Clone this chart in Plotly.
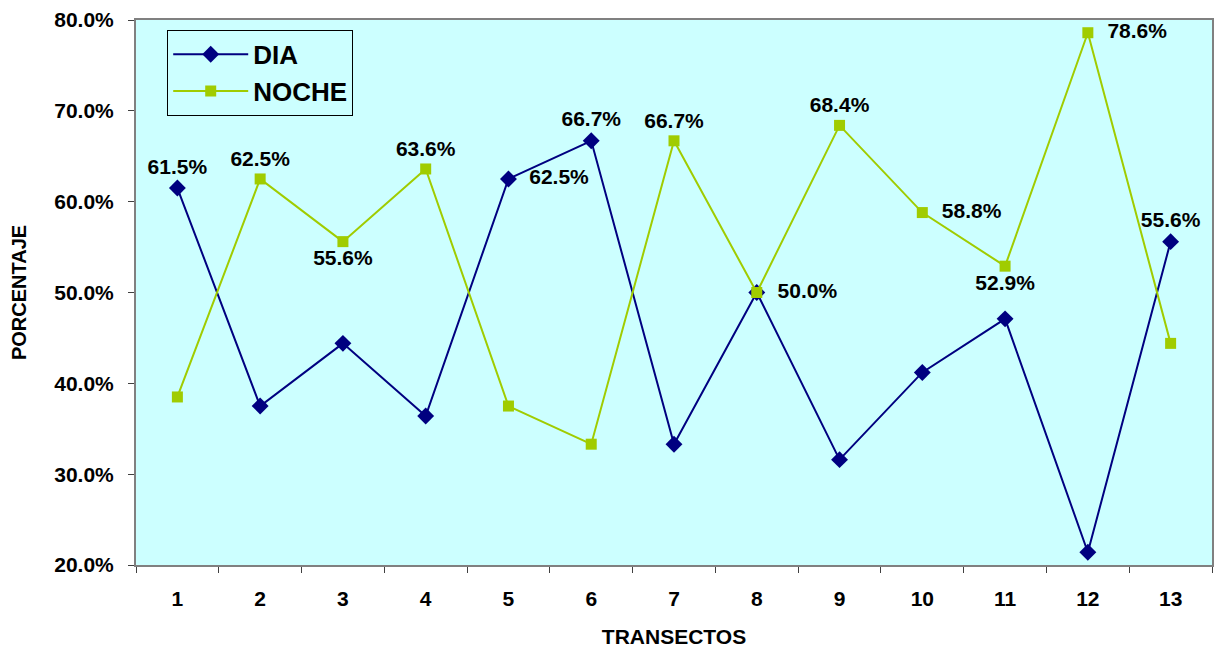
import plotly.graph_objects as go

# Transect numbers and day/night percentages
transectos = [str(i) for i in range(1, 14)]
dia = [61.5, 37.5, 44.4, 36.4, 62.5, 66.7, 33.3, 50.0, 31.6, 41.2, 47.1, 21.4, 55.6]
noche = [38.5, 62.5, 55.6, 63.6, 37.5, 33.3, 66.7, 50.0, 68.4, 58.8, 52.9, 78.6, 44.4]

# Which points carry a value label, and where it sits
dia_lbl = [True, False, False, False, True, True, False, True, False, False, False, False, True]
dia_pos = ["top center", "top center", "top center", "top center", "middle right",
           "top center", "top center", "middle right", "top center", "top center",
           "top center", "top center", "top center"]
noche_lbl = [False, True, True, True, False, False, True, False, True, True, True, True, False]
noche_pos = ["top center", "top center", "bottom center", "top center", "top center",
             "top center", "top center", "top center", "top center", "middle right",
             "bottom center", "middle right", "top center"]

FONT = "Liberation Sans, Arial, sans-serif"


def labels(vals, show, pos):
    out = []
    for v, s, p in zip(vals, show, pos):
        if not s:
            out.append("")
        elif p == "middle right":
            out.append(f"  {v:.1f}%")
        else:
            out.append(f"{v:.1f}%")
    return out


fig = go.Figure()
fig.add_trace(go.Scatter(
    x=transectos, y=dia, name="DIA", mode="lines+markers+text",
    line=dict(color="#000080", width=2),
    marker=dict(symbol="diamond", size=13, color="#000080"),
    text=labels(dia, dia_lbl, dia_pos), textposition=dia_pos,
    textfont=dict(family=FONT, size=21, color="black", weight="bold"),
    cliponaxis=False,
))
fig.add_trace(go.Scatter(
    x=transectos, y=noche, name="NOCHE", mode="lines+markers+text",
    line=dict(color="#A0CC00", width=2),
    marker=dict(symbol="square", size=11, color="#A0CC00"),
    text=labels(noche, noche_lbl, noche_pos), textposition=noche_pos,
    textfont=dict(family=FONT, size=21, color="black", weight="bold"),
    cliponaxis=False,
))

fig.update_layout(
    width=1219, height=649,
    margin=dict(l=136, r=7, t=20, b=84),
    paper_bgcolor="white", plot_bgcolor="#CCFFFF",
    font=dict(family=FONT, size=21, color="black", weight="bold"),
    showlegend=True,
    legend=dict(
        x=0.029, y=0.982, xanchor="left", yanchor="top",
        bgcolor="#CCFFFF", bordercolor="black", borderwidth=1,
        font=dict(family=FONT, size=26, color="black", weight="bold"),
        itemwidth=75, tracegroupgap=4,
    ),
    xaxis=dict(
        type="category", range=[-0.5, 12.5], tickson="boundaries",
        ticks="outside", ticklen=6, tickcolor="#404040", showgrid=False,
        showline=True, linecolor="#808080", linewidth=2, mirror=True,
        ticklabelstandoff=14, automargin=False,
        tickfont=dict(family=FONT, size=21, weight="bold"),
        title=dict(text="TRANSECTOS", standoff=20,
                   font=dict(family=FONT, size=21, weight="bold")),
    ),
    yaxis=dict(
        range=[20, 80], dtick=10, tickformat=".1f", ticksuffix="%",
        ticks="outside", ticklen=6, tickcolor="#404040", showgrid=False,
        showline=True, linecolor="#808080", linewidth=2, mirror=True,
        zeroline=False, ticklabelstandoff=10, automargin=False,
        tickfont=dict(family=FONT, size=21, weight="bold"),
        title=dict(text="PORCENTAJE", standoff=22,
                   font=dict(family=FONT, size=20, weight="bold")),
    ),
)

fig.write_html("out.html")
